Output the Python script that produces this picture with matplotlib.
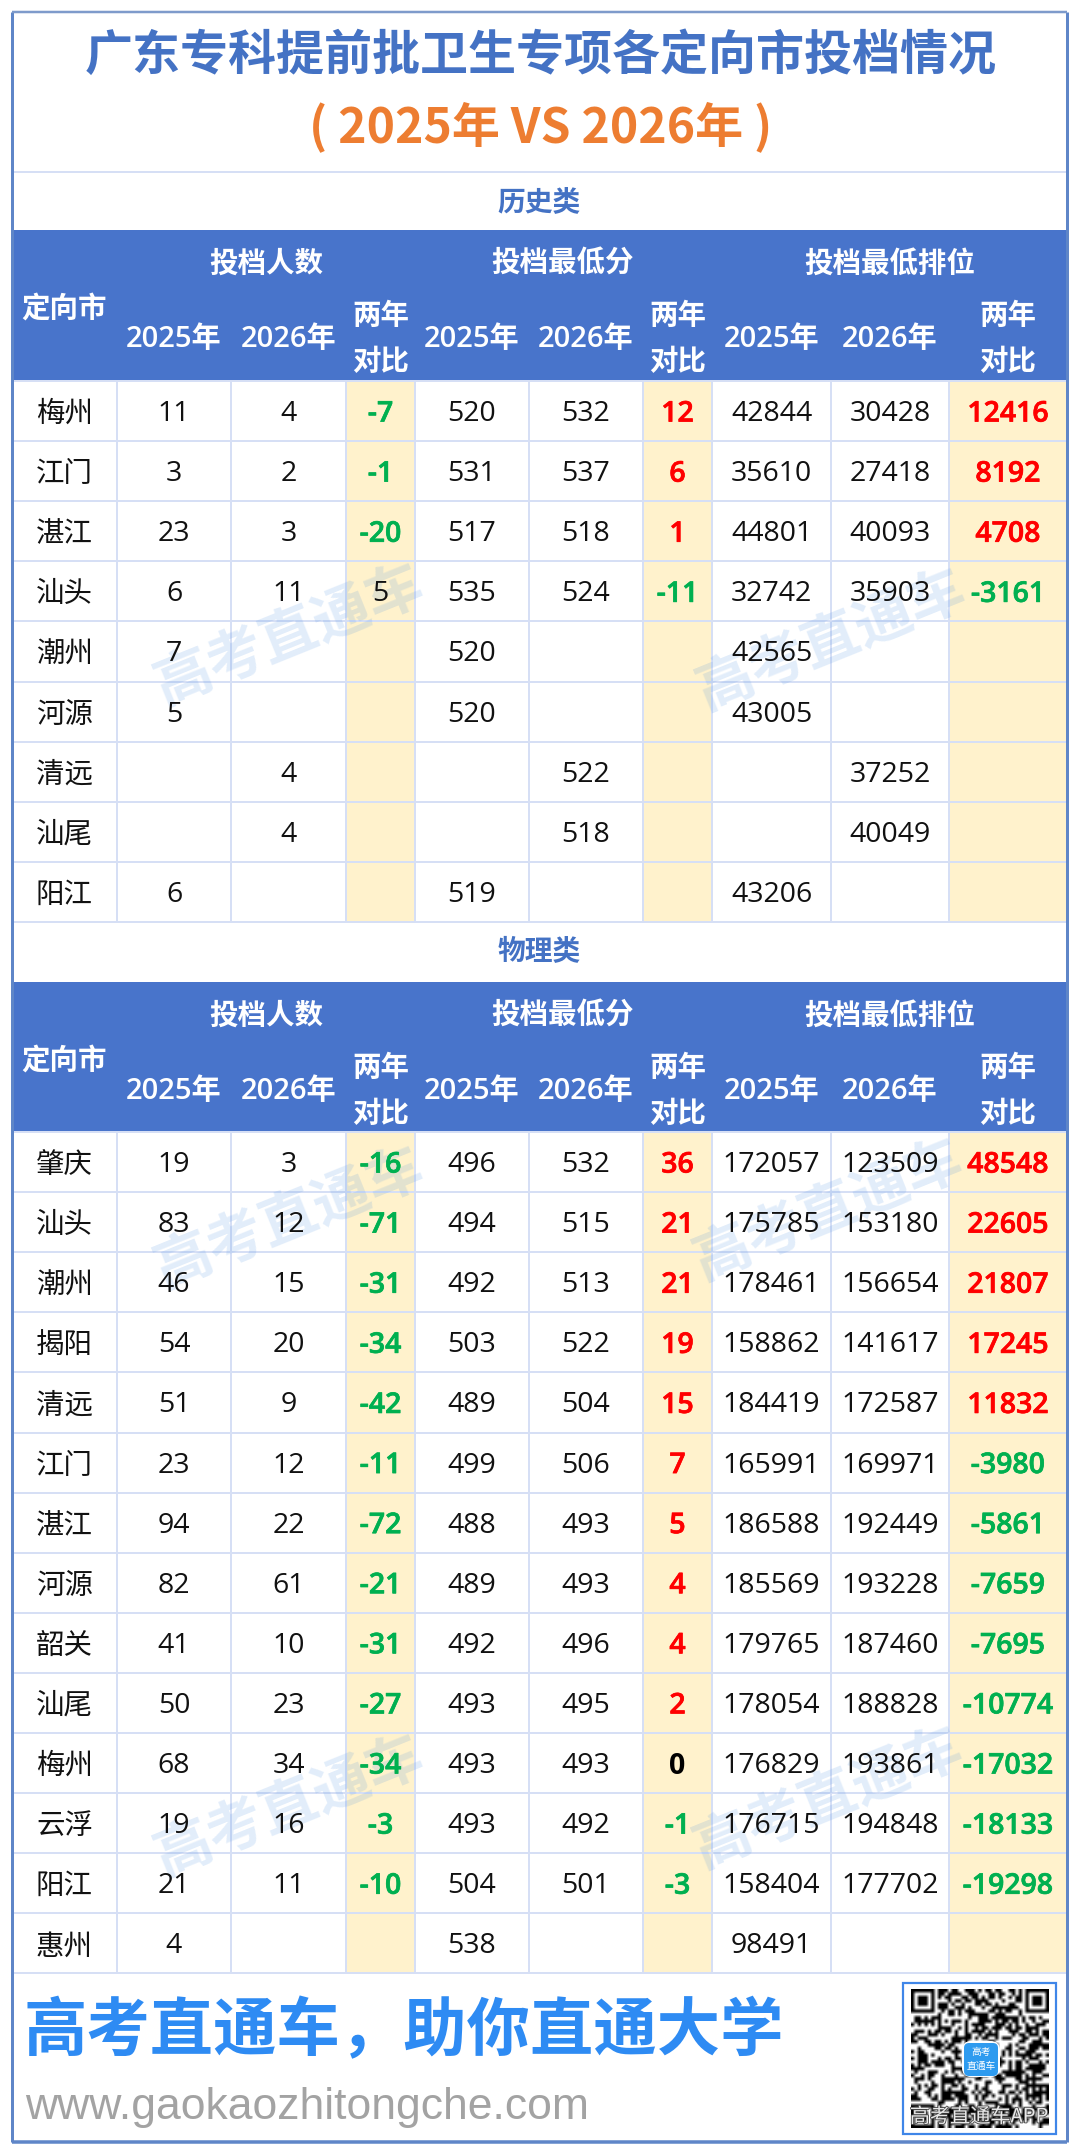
import hashlib
import numpy as np
import matplotlib
matplotlib.use("Agg")
import matplotlib.pyplot as plt
from matplotlib.patches import Rectangle, FancyBboxPatch
import matplotlib.patheffects as pe

CJK = ['Noto Sans CJK SC', 'DejaVu Sans']
NUM = ['Open Sans', 'Noto Sans CJK SC', 'DejaVu Sans']
plt.rcParams['font.family'] = CJK

TITLE = "广东专科提前批卫生专项各定向市投档情况"
SUBTITLE = "( 2025年 VS 2026年 )"
FOOT = "高考直通车，助你直通大学"
URL = "www.gaokaozhitongche.com"
WATERMARK = "高考直通车"
GROUPS = ["投档人数", "投档最低分", "投档最低排位"]
YEARS = ["2025年", "2026年"]

# 历史类
h_city = ["梅州", "江门", "湛江", "汕头", "潮州", "河源", "清远", "汕尾", "阳江"]
h_n25 = [11, 3, 23, 6, 7, 5, None, None, 6]
h_n26 = [4, 2, 3, 11, None, None, 4, 4, None]
h_nd = [-7, -1, -20, 5, None, None, None, None, None]
h_s25 = [520, 531, 517, 535, 520, 520, None, None, 519]
h_s26 = [532, 537, 518, 524, None, None, 522, 518, None]
h_sd = [12, 6, 1, -11, None, None, None, None, None]
h_r25 = [42844, 35610, 44801, 32742, 42565, 43005, None, None, 43206]
h_r26 = [30428, 27418, 40093, 35903, None, None, 37252, 40049, None]
h_rd = [12416, 8192, 4708, -3161, None, None, None, None, None]

# 物理类
p_city = ["肇庆", "汕头", "潮州", "揭阳", "清远", "江门", "湛江", "河源", "韶关", "汕尾", "梅州", "云浮", "阳江", "惠州"]
p_n25 = [19, 83, 46, 54, 51, 23, 94, 82, 41, 50, 68, 19, 21, 4]
p_n26 = [3, 12, 15, 20, 9, 12, 22, 61, 10, 23, 34, 16, 11, None]
p_nd = [-16, -71, -31, -34, -42, -11, -72, -21, -31, -27, -34, -3, -10, None]
p_s25 = [496, 494, 492, 503, 489, 499, 488, 489, 492, 493, 493, 493, 504, 538]
p_s26 = [532, 515, 513, 522, 504, 506, 493, 493, 496, 495, 493, 492, 501, None]
p_sd = [36, 21, 21, 19, 15, 7, 5, 4, 4, 2, 0, -1, -3, None]
p_r25 = [172057, 175785, 178461, 158862, 184419, 165991, 186588, 185569, 179765, 178054, 176829, 176715, 158404, 98491]
p_r26 = [123509, 153180, 156654, 141617, 172587, 169971, 192449, 193228, 187460, 188828, 193861, 194848, 177702, None]
p_rd = [48548, 22605, 21807, 17245, 11832, -3980, -5861, -7659, -7695, -10774, -17032, -18133, -19298, None]

W, H = 1080, 2155
fig = plt.figure(figsize=(W / 100, H / 100), dpi=100, facecolor='white')
ax = fig.add_axes([0, 0, 1, 1])
ax.set_xlim(0, W)
ax.set_ylim(H, 0)
ax.axis('off')

L, R, TOP, BOT = 12, 1067, 12, 2142
COLS = [12, 117, 231, 346, 415, 529, 643, 712, 831, 949, 1067]
ROW_H = 60.1
BLUE, CREAM, GRID = '#4874CB', '#FFF2CC', '#D6DFF5'
RED, GREEN = '#FF0000', '#00B050'
PX = 0.72
DY = 3.0


def rect(x0, y0, x1, y1, color, z=1):
    ax.add_patch(Rectangle((x0, y0), x1 - x0, y1 - y0, facecolor=color, edgecolor='none', zorder=z))


def hline(y, color=GRID, lw=2, x0=L, x1=R, z=2):
    ax.plot([x0, x1], [y, y], color=color, lw=lw * PX, zorder=z, solid_capstyle='butt')


def vline(x, y0, y1, color=GRID, lw=2, z=2):
    ax.plot([x, x], [y0, y1], color=color, lw=lw * PX, zorder=z, solid_capstyle='butt')


def txt(x, y, s, size=20, color='#111111', weight='normal', family=NUM, z=5, **kw):
    return ax.text(x, y + DY, s, fontsize=size, color=color, fontweight=weight, family=family,
                   ha='center', va='center', zorder=z, **kw)


def strong(x, y, s, color):
    t = txt(x, y, s, size=20.5, color=color, weight='semibold')
    t.set_path_effects([pe.withStroke(linewidth=0.5, foreground=color)])


def centers():
    return [(COLS[i] + COLS[i + 1]) / 2 for i in range(len(COLS) - 1)]


def section(title_y, name, head_top, head_bot, cols_data):
    txt(539, title_y, name, size=20, color='#4472C4', weight='bold', family=CJK)
    rect(L, head_top, R, head_bot, BLUE)
    for cx, g in zip([266.5, 563, 890], GROUPS):
        txt(cx, head_top + 31, g, size=20.5, color='white', weight='bold', family=CJK)
    txt(64, head_top + 76, "定向市", size=20.5, color='white', weight='bold', family=CJK)
    c = centers()
    for xi in (1, 4, 7):
        txt(c[xi], head_top + 106, YEARS[0], size=21, color='white', weight='semibold')
        txt(c[xi + 1], head_top + 106, YEARS[1], size=21, color='white', weight='semibold')
        txt(c[xi + 2], head_top + 83, "两年", size=20.5, color='white', weight='bold', family=CJK)
        txt(c[xi + 2], head_top + 129, "对比", size=20.5, color='white', weight='bold', family=CJK)
    n = len(cols_data[0])
    for d in (3, 6, 9):
        rect(COLS[d], head_bot, COLS[d + 1], head_bot + n * ROW_H, CREAM)
    for k in range(n + 1):
        hline(head_bot + k * ROW_H)
    for xv in COLS[1:-1]:
        vline(xv, head_bot, head_bot + n * ROW_H)
    for j, col in enumerate(cols_data):
        for i, v in enumerate(col):
            if v is None:
                continue
            y = head_bot + (i + 0.5) * ROW_H
            if j == 0:
                txt(c[j], y, v, size=20.5, family=CJK)
            elif j in (3, 6, 9):
                if v < 0:
                    strong(c[j], y, str(v), GREEN)
                elif j == 3:
                    txt(c[j], y, str(v), size=20.5)
                elif v == 0:
                    txt(c[j], y, str(v), size=20.5, color='black', weight='bold')
                else:
                    strong(c[j], y, str(v), RED)
            else:
                txt(c[j], y, str(v), size=20.5)


rect(L, TOP, R, BOT, 'white', z=0)
txt(541, 52, TITLE, size=34.6, color='#4472C4', weight='bold', family=CJK)
txt(541, 124, SUBTITLE, size=34.6, color='#ED7D31', weight='bold', family=CJK)
hline(172)

section(199, "历史类", 230, 381, [h_city, h_n25, h_n26, h_nd, h_s25, h_s26, h_sd, h_r25, h_r26, h_rd])
section(949, "物理类", 982, 1132, [p_city, p_n25, p_n26, p_nd, p_s25, p_s26, p_sd, p_r25, p_r26, p_rd])

for wx, wy in [(290, 635), (832, 640), (290, 1218), (829, 1210), (290, 1806), (829, 1798)]:
    ax.text(wx, wy, WATERMARK, fontsize=41, fontweight='bold', family=CJK, color='#4A90E2', alpha=0.16,
            ha='center', va='center', rotation=22, zorder=4)

# footer
txt(404, 2029, FOOT, size=45.6, color='#2E8BF3', weight='bold', family=CJK)
ax.text(25, 2108, URL, fontsize=32, color='#A3A3A3', family=['Liberation Sans'], ha='left', va='center', zorder=5)

# QR decoration
N = 41
bits = ''.join(bin(b)[2:].zfill(8) for s in range(40) for b in hashlib.sha256(str(s).encode()).digest())
qr = np.array([int(b) for b in bits[:N * N]], dtype=float).reshape(N, N)
def finder(r, c):
    qr[max(r - 1, 0):r + 8, max(c - 1, 0):c + 8] = 0
    qr[r:r + 7, c:c + 7] = 1
    qr[r + 1:r + 6, c + 1:c + 6] = 0
    qr[r + 2:r + 5, c + 2:c + 5] = 1
finder(0, 0)
finder(0, N - 7)
finder(N - 7, 0)
ax.imshow(1 - qr, cmap='gray', vmin=0, vmax=1, extent=(911, 1049, 2128, 1989), aspect='auto',
          interpolation='bilinear', zorder=3)
ax.set_xlim(0, W)
ax.set_ylim(H, 0)
ax.add_patch(Rectangle((903, 1983), 153, 151, facecolor='none', edgecolor='#3F86E8', lw=2.2 * PX, zorder=6))
ax.add_patch(FancyBboxPatch((966, 2045), 30, 28, boxstyle='round,pad=0,rounding_size=5', facecolor='white',
                            edgecolor='white', lw=8 * PX, zorder=6))
ax.add_patch(FancyBboxPatch((964, 2043), 34, 33, boxstyle='round,pad=0,rounding_size=5', facecolor='#2E9BEF',
                            edgecolor='none', zorder=7))
txt(981, 2049, "高考", size=7, color='white', family=CJK, z=8, style='italic')
txt(981, 2063, "直通车", size=7, color='white', family=CJK, z=8, style='italic')
t = txt(979, 2114, "高考直通车APP", size=14.5, color='#E8E8E8', family=CJK, z=8)
t.set_path_effects([pe.withStroke(linewidth=1.2, foreground='#444444')])

# outer frame
vline(L, TOP, BOT, color='#5F86C8', lw=3, z=9)
vline(R, TOP, BOT, color='#5F86C8', lw=3, z=9)
hline(TOP, color='#7E9BCB', lw=2.5, x0=L, x1=R, z=9)
hline(BOT, color='#5F86C8', lw=3.5, x0=L, x1=R, z=9)

fig.savefig('out.png', dpi=100, facecolor='white')
